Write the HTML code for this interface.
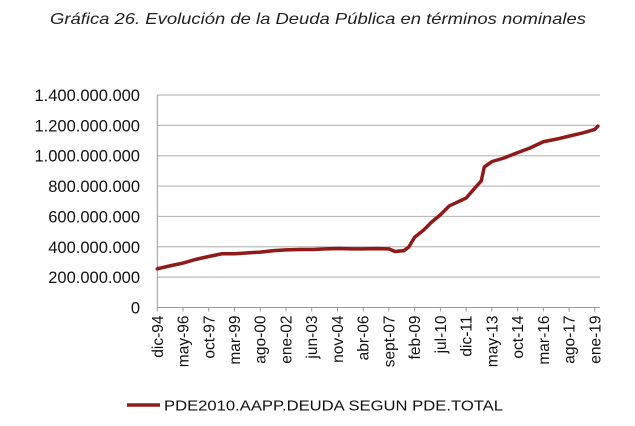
<!DOCTYPE html>
<html><head><meta charset="utf-8">
<style>
body{margin:0;background:#fff;width:635px;height:421px;overflow:hidden;font-family:"Liberation Sans",sans-serif}
</style></head>
<body>
<svg width="635" height="421" id="c">
<text x="318" y="24" text-anchor="middle" font-style="italic" font-size="16" textLength="536" lengthAdjust="spacingAndGlyphs" fill="#222">Gráfica 26. Evolución de la Deuda Pública en términos nominales</text>
<g id="grid"></g><g id="yl"></g><g id="xl"></g><g id="ln"></g>
<g>
<line x1="127" y1="405" x2="160" y2="405" stroke="#8e1a1a" stroke-width="3.5"/>
<text x="164" y="410.5" font-size="14.5" textLength="339" lengthAdjust="spacingAndGlyphs" fill="#111">PDE2010.AAPP.DEUDA SEGUN PDE.TOTAL</text>
</g>
</svg>
<script>
const tickLabels=["dic-94","may-96","oct-97","mar-99","ago-00","ene-02","jun-03","nov-04","abr-06","sept-07","feb-09","jul-10","dic-11","may-13","oct-14","mar-16","ago-17","ene-19"];
const yTicks=[0,200,400,600,800,1000,1200,1400];
const months=[0,8.6,17,25.8,34,42.7,51,60,68,77,85,94,103,111,120,128,136,145,153,157,163,166,170,176,181,187,193,204,210,214,216,221,229,238,246,255,264,272,281,289,291];
const values=[255,275,293,318,336,354,354,360,365,375,380,382,382,386,389,386,386,388,386,369,375,397,463,511,561,611,670,721,790,834,926,961,985,1020,1050,1092,1110,1129,1150,1173,1194];
const NS="http://www.w3.org/2000/svg";
const X0=157.3,X1=600,PXM=437.5/289;
const x=m=>X0+m*PXM;
const y=v=>307.5-v/1400*212.5;
function mk(t,a,p){const e=document.createElementNS(NS,t);for(const k in a)e.setAttribute(k,a[k]);p.appendChild(e);return e;}
const grid=document.getElementById('grid'),yl=document.getElementById('yl'),xl=document.getElementById('xl'),ln=document.getElementById('ln');
yTicks.forEach(v=>{
 if(v>0){const g=mk('line',{x1:X0,x2:X1,y1:y(v),y2:y(v),stroke:'#bbb','stroke-width':1.2},grid);
 
 }
 const t=mk('text',{x:140,y:y(v)+6,'text-anchor':'end','font-size':16.5,fill:'#111'},yl);
 t.textContent=v===0?'0':(v*1000000).toLocaleString('de-DE');
 
 
});
const ax=mk('line',{x1:X0,x2:X0,y1:y(1400),y2:y(0),stroke:'#999','stroke-width':1},grid);


const bx=mk('line',{x1:X0,x2:X1,y1:y(0),y2:y(0),stroke:'#999','stroke-width':1},grid);


tickLabels.forEach((l,i)=>{
 const xx=x(i*17);
 mk('line',{x1:xx,x2:xx,y1:y(0),y2:y(0)+4,stroke:'#999'},grid);
 const t=mk('text',{x:0,y:0,'text-anchor':'end','font-size':15.5,fill:'#111',transform:`translate(${xx+5.5},${y(0)+8}) rotate(-90)`},xl);
 t.textContent=l;
 
 
});
const p=mk('polyline',{points:months.map((m,i)=>x(m)+','+y(values[i])).join(' '),fill:'none',stroke:'#8e1a1a','stroke-width':3.5,'stroke-linejoin':'round','stroke-linecap':'round'},ln);


</script>
</body></html>
